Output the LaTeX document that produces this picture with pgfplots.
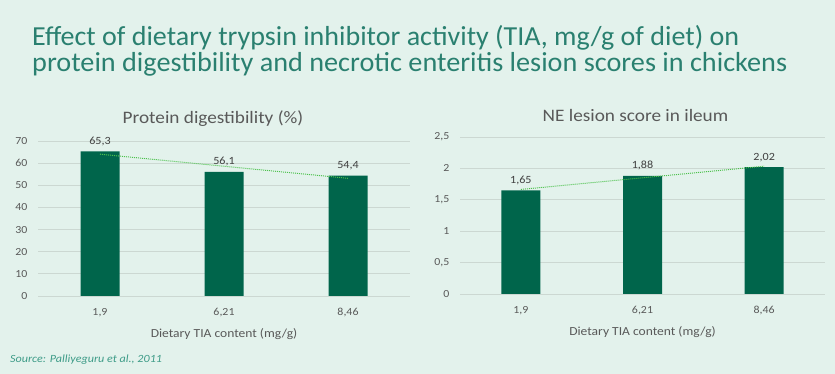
\documentclass[border=0pt]{standalone}
\usepackage{fontspec}
\setmainfont{Carlito}[FakeStretch=1.1]
\newfontfamily\tfont{Carlito}
\usepackage{graphicx}
\usepackage{pgfplots}
\pgfplotsset{compat=1.18}
\definecolor{bg}{HTML}{E3F2EC}
\definecolor{barc}{HTML}{00654B}
\definecolor{ttl}{HTML}{2A8070}
\definecolor{src}{HTML}{3E9C88}
\definecolor{grd}{HTML}{CCD8D2}
\definecolor{txt}{HTML}{595959}
\definecolor{lbl}{HTML}{404040}
\definecolor{trend}{HTML}{4EC24E}
\pgfplotsset{
  panel/.style={
    scale only axis,
    xmin=-0.5, xmax=2.5, ymin=0,
    xtick={0,1,2}, xticklabels={{1,9},{6,21},{8,46}},
    axis line style={draw=none},
    major tick length=0pt,
    ymajorgrids, grid style={grd, line width=0.8pt},
    /pgf/number format/assume math mode=true,
    ticklabel style={font=\fontsize{10.8}{13}\selectfont, text=txt},
    xticklabel style={yshift=-9pt},
    yticklabel style={xshift=-7pt},
    xlabel={Dietary TIA content (mg/g)},
    xlabel style={at={(axis description cs:0.5,0)}, anchor=center, yshift=-38pt, font=\fontsize{12.3}{14}\selectfont, text=txt},
    title style={at={(axis description cs:0.5,1)}, anchor=center, yshift=16pt, font=\fontsize{17.5}{19}\selectfont, text=txt},
    clip=false,
  },
  barstyle/.style={ybar, bar width=39pt, fill=barc, draw=none,
    nodes near coords,
    every node near coord/.append style={font=\fontsize{11}{13}\selectfont, text=lbl, yshift=2pt},
  },
}
\begin{document}
\begin{tikzpicture}
\fill[bg] (0pt,0pt) rectangle (835pt,374pt);
\node[anchor=base west, text=ttl, inner sep=0] at (32pt,328pt)
  {\resizebox{707pt}{\height}{\tfont\fontsize{27.5}{28}\selectfont Effect of dietary trypsin inhibitor activity (TIA, mg/g of diet) on}};
\node[anchor=base west, text=ttl, inner sep=0] at (32pt,302pt)
  {\resizebox{755pt}{\height}{\tfont\fontsize{27.5}{28}\selectfont protein digestibility and necrotic enteritis lesion scores in chickens}};

\begin{axis}[panel, at={(38pt,78pt)}, anchor=south west, width=372pt, height=155pt,
  ymax=70, ytick={0,10,...,70},
  title={Protein digestibility (\%)}, title style={xshift=-11pt}]
\addplot[barstyle, /pgf/number format/.cd, use comma, fixed, fixed zerofill, precision=1, assume math mode=true]
  coordinates {(0,65.3) (1,56.1) (2,54.4)};
\addplot[trend, densely dotted, line width=1pt, sharp plot] coordinates {(0,64.05) (2,53.15)};
\end{axis}

\begin{axis}[panel, at={(460pt,80pt)}, anchor=south west, width=365pt, height=157pt,
  ymax=2.5, ytick={0,0.5,1,1.5,2,2.5}, yticklabels={0,{0,5},1,{1,5},2,{2,5}},
  title={NE lesion score in ileum}, title style={xshift=-7pt}]
\addplot[barstyle, /pgf/number format/.cd, use comma, fixed, fixed zerofill, precision=2, assume math mode=true]
  coordinates {(0,1.65) (1,1.88) (2,2.02)};
\addplot[trend, densely dotted, line width=1pt, sharp plot] coordinates {(0,1.665) (2,2.035)};
\end{axis}

\node[anchor=base west, text=src, font=\fontsize{11}{13}\selectfont\itshape, inner sep=0] at (10pt,11pt) {Source: Palliyeguru et al., 2011};
\pgfresetboundingbox
\useasboundingbox (0pt,0pt) rectangle (835pt,374pt);
\end{tikzpicture}
\end{document}
